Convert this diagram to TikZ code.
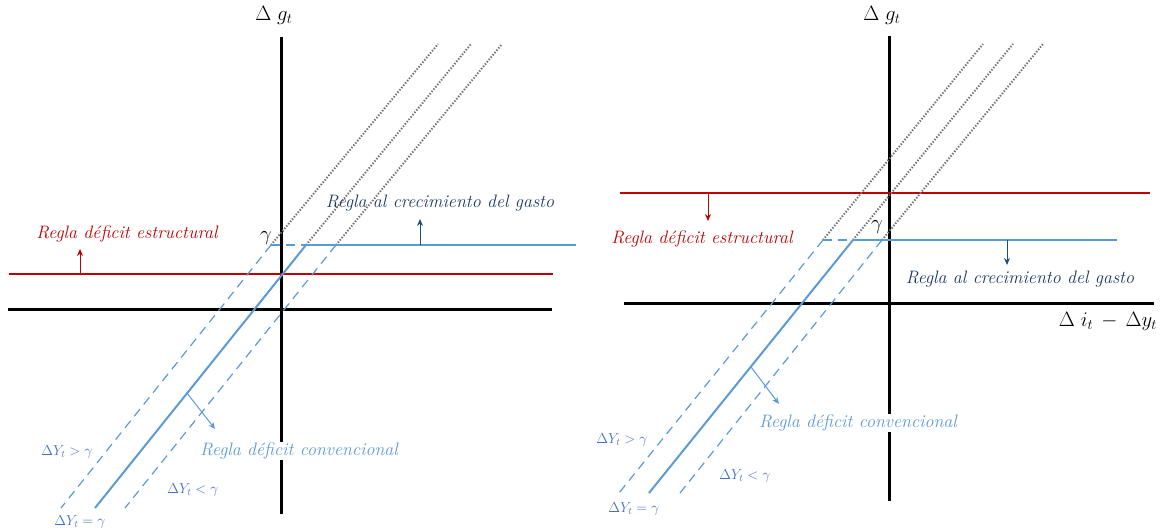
\documentclass[tikz,border=0pt]{standalone}
\usepackage{amsmath,amssymb}
\usepackage{tikz}
\usetikzlibrary{arrows.meta,positioning}

\definecolor{rojo}{RGB}{192,0,0}
\definecolor{azulclaro}{RGB}{91,155,213}
\definecolor{azulosc}{RGB}{31,56,100}
\definecolor{azulmed}{RGB}{68,114,196}
\definecolor{flechaosc}{RGB}{31,78,121}

\begin{document}
\begin{tikzpicture}[>={Stealth[length=7pt,width=6pt]}, x=1pt, y=-1pt,
    eje/.style={line width=3pt, black},
    deficit/.style={line width=2pt, rojo},
    regla/.style={line width=2pt, azulclaro},
    banda/.style={line width=1.2pt, azulclaro, dash pattern=on 9pt off 6pt},
    punteado/.style={line width=2pt, black!55, dash pattern=on 1.4pt off 1.6pt},
    flecha/.style={->, line width=1pt},
    etiq/.style={font=\fontsize{18}{20}\selectfont\itshape},
    ejeetiq/.style={font=\fontsize{21}{23}\selectfont},
    casoetiq/.style={font=\fontsize{14}{16}\selectfont, text=azulmed}]
\useasboundingbox (0,0) rectangle (1160,531);

% ---------- panel izquierdo ----------
\coordinate (iV1) at (281,37);
\coordinate (iV2) at (281,514);
\coordinate (iH1) at (8,309);
\coordinate (iH2) at (552,309);
\coordinate (iR1) at (9,274);
\coordinate (iR2) at (553,274);
\coordinate (iG1) at (271,245);
\coordinate (iG2) at (306,245);
\coordinate (iG3) at (336,245);
\coordinate (iG4) at (576,245);
\coordinate (iB1) at (61,508);
\coordinate (iB2) at (95,508);
\coordinate (iB3) at (125,508);
\coordinate (iT1) at (438,44);
\coordinate (iT2) at (471,44);
\coordinate (iT3) at (502,44);
\coordinate (iRa) at (80,274);
\coordinate (iRb) at (80,249);
\coordinate (iCa) at (420,245);
\coordinate (iCb) at (420,219);
\coordinate (iDa) at (187,393);
\coordinate (iDb) at (215,429);

\draw[eje] (iV1) -- (iV2);
\draw[eje] (iH1) -- (iH2);
\draw[deficit] (iR1) -- (iR2);
\draw[punteado] (iG1) -- (iT1);
\draw[punteado] (iG2) -- (iT2);
\draw[punteado] (iG3) -- (iT3);
\draw[banda] (iG1) -- (iG2);
\draw[regla] (iG2) -- (iG4);
\draw[regla] (iG2) -- (iB2);
\draw[banda] (iG1) -- (iB1);
\draw[banda] (iG3) -- (iB3);
\draw[flecha, rojo] (iRa) -- (iRb);
\draw[flecha, flechaosc] (iCa) -- (iCb);
\draw[flecha, azulclaro] (iDa) -- (iDb);

\node[ejeetiq] (iEjeY) at (274,15) {$\Delta\; g_t$};
\node[ejeetiq] (iGam) at (266,238) {$\gamma$};
\node[etiq, text=rojo] (iEstr) at (127,234) {Regla déficit estructural};
\node[etiq, text=azulosc] (iGasto) at (440,203) {Regla al crecimiento del gasto};
\node[etiq, text=azulclaro, fill=white, inner sep=1pt] (iConv) at (299,451) {Regla déficit convencional};
\node[casoetiq] (iMay) at (67,452) {$\Delta Y_t > \gamma$};
\node[casoetiq] (iMen) at (193,490) {$\Delta Y_t < \gamma$};
\node[casoetiq] (iIg) at (80,522) {$\Delta Y_t = \gamma$};

% ---------- panel derecho ----------
\coordinate (dV1) at (889,36);
\coordinate (dV2) at (889,501);
\coordinate (dH1) at (624,303);
\coordinate (dH2) at (1154,303);
\coordinate (dR1) at (620,193);
\coordinate (dR2) at (1150,193);
\coordinate (dG1) at (823,240);
\coordinate (dG2) at (853,240);
\coordinate (dG3) at (882,240);
\coordinate (dG4) at (1117,240);
\coordinate (dB1) at (619,493);
\coordinate (dB2) at (649,493);
\coordinate (dB3) at (680,493);
\coordinate (dT1) at (983,44);
\coordinate (dT2) at (1013,44);
\coordinate (dT3) at (1043,44);
\coordinate (dRa) at (708,193);
\coordinate (dRb) at (708,221);
\coordinate (dCa) at (1007,240);
\coordinate (dCb) at (1007,265);
\coordinate (dDa) at (751,367);
\coordinate (dDb) at (779,404);

\draw[eje] (dV1) -- (dV2);
\draw[eje] (dH1) -- (dH2);
\draw[deficit] (dR1) -- (dR2);
\draw[punteado] (dG1) -- (dT1);
\draw[punteado] (dG2) -- (dT2);
\draw[punteado] (dG3) -- (dT3);
\draw[banda] (dG1) -- (dG2);
\draw[regla] (dG2) -- (dG4);
\draw[regla] (dG2) -- (dB2);
\draw[banda] (dG1) -- (dB1);
\draw[banda] (dG3) -- (dB3);
\draw[flecha, rojo] (dRa) -- (dRb);
\draw[flecha, flechaosc] (dCa) -- (dCb);
\draw[flecha, azulclaro] (dDa) -- (dDb);

\node[ejeetiq] (dEjeY) at (882,15) {$\Delta\; g_t$};
\node[ejeetiq] (dEjeX) at (1108,321) {$\Delta\; i_t \,-\, \Delta y_t$};
\node[ejeetiq] (dGam) at (877,227) {$\gamma$};
\node[etiq, text=rojo] (dEstr) at (702,239) {Regla déficit estructural};
\node[etiq, text=azulosc] (dGasto) at (1020,279) {Regla al crecimiento del gasto};
\node[etiq, text=azulclaro, fill=white, inner sep=1pt] (dConv) at (858,423) {Regla déficit convencional};
\node[casoetiq] (dMay) at (622,440) {$\Delta Y_t > \gamma$};
\node[casoetiq] (dMen) at (745,476) {$\Delta Y_t < \gamma$};
\node[casoetiq] (dIg) at (634,509) {$\Delta Y_t = \gamma$};
\end{tikzpicture}
\end{document}
